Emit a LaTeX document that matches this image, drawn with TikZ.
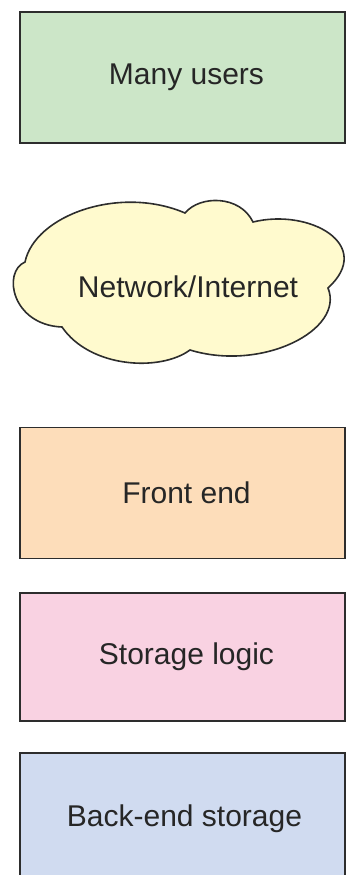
\documentclass[tikz,border=0pt]{standalone}
\usepackage{fontspec}
\setmainfont{Liberation Sans}
\usetikzlibrary{positioning}

\definecolor{usersgreen}{RGB}{204,230,200}
\definecolor{netyellow}{RGB}{255,250,206}
\definecolor{frontpeach}{RGB}{253,221,186}
\definecolor{logicpink}{RGB}{249,210,226}
\definecolor{backblue}{RGB}{208,219,240}
\definecolor{edgegray}{RGB}{45,45,45}

\tikzset{
	layer/.style={draw=edgegray, line width=1.6pt, minimum width=325pt, minimum height=131pt,
		inner sep=0pt, font=\fontsize{30}{36}\selectfont, text=black!85},
	label text/.style={font=\fontsize{30}{36}\selectfont, text=black!85},
}

\begin{document}
\begin{tikzpicture}[x=1pt, y=-1pt]
	\useasboundingbox (0, 0) rectangle (349, 875);
	\clip (0, 0) rectangle (349, 875);
	\node[layer, fill=usersgreen] (users) at (182.5, 77.5) {\hspace{8pt}Many users};
	% cloud
	\filldraw[fill=netyellow, draw=edgegray, line width=1.6pt]
		(25, 262) .. controls (35, 215) and (120, 185) .. (185, 213)
		.. controls (200, 195) and (240, 195) .. (253, 222)
		.. controls (310, 208) and (375, 245) .. (328, 288)
		.. controls (345, 330) and (262, 372) .. (190, 350)
		.. controls (160, 372) and (90, 368) .. (62, 327)
		.. controls (12, 325) and (2, 272) .. cycle;
	\node[label text] (net) at (188, 287) {Network/Internet};
	\node[layer, fill=frontpeach] (front) at (182.5, 493) {\hspace{8pt}Front end};
	\node[layer, fill=logicpink, minimum height=128pt] (logic) at (182.5, 657) {\hspace{8pt}Storage logic};
	\node[layer, fill=backblue, minimum height=132pt] (backend) at (182.5, 819) {\hspace{4pt}Back-end storage};
\end{tikzpicture}
\end{document}
